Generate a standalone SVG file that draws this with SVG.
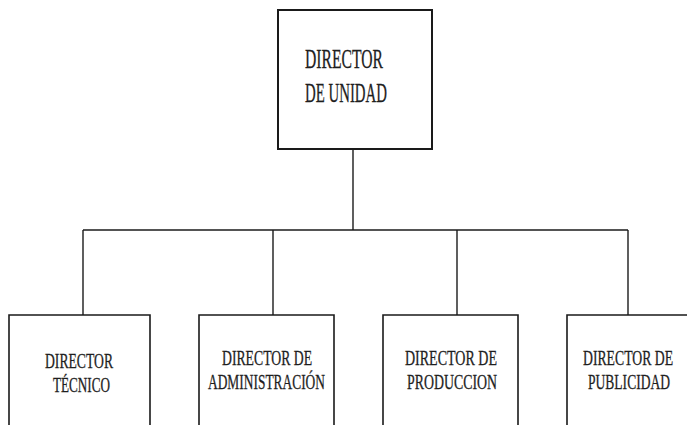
<svg xmlns="http://www.w3.org/2000/svg" width="687" height="425" viewBox="0 0 687 425">
  <style>
    .box { fill: #ffffff; stroke: #1a1a1a; stroke-width: 1.6; }
    .top { stroke-width: 2; }
    .conn { fill: none; stroke: #1a1a1a; stroke-width: 1.4; }
    .lbl { font-family: "Liberation Serif", "Times New Roman", serif; fill: #1e1e1e; stroke: #1e1e1e; stroke-width: 0.3; }
    .t1 { font-size: 27px; }
    .t2 { font-size: 21px; }
  </style>
  <rect width="687" height="425" fill="#ffffff"/>
  <g id="connectors">
    <line class="conn" x1="353" y1="149" x2="353" y2="230"/>
    <line class="conn" x1="83" y1="230" x2="628" y2="230"/>
    <line class="conn" x1="83" y1="230" x2="83" y2="315"/>
    <line class="conn" x1="273" y1="230" x2="273" y2="315"/>
    <line class="conn" x1="457" y1="230" x2="457" y2="315"/>
    <line class="conn" x1="628" y1="230" x2="628" y2="315"/>
  </g>
  <g id="node-director-unidad">
    <rect class="box top" x="278" y="10" width="154" height="139"/>
    <text class="lbl t1" transform="translate(305,68) scale(0.56,1)" textLength="139.3" lengthAdjust="spacingAndGlyphs">DIRECTOR</text>
    <text class="lbl t1" transform="translate(305,102) scale(0.56,1)" textLength="146.4" lengthAdjust="spacingAndGlyphs">DE UNIDAD</text>
  </g>
  <g id="node-director-tecnico">
    <path class="box" d="M9,425 V315 H150 V425"/>
    <text class="lbl t2" transform="translate(45,368) scale(0.65,1)" textLength="104.6" lengthAdjust="spacingAndGlyphs">DIRECTOR</text>
    <text class="lbl t2" transform="translate(53,392) scale(0.65,1)" textLength="87.7" lengthAdjust="spacingAndGlyphs">TÉCNICO</text>
  </g>
  <g id="node-director-administracion">
    <path class="box" d="M199,425 V315 H334 V425"/>
    <text class="lbl t2" transform="translate(222,365) scale(0.65,1)" textLength="138.5" lengthAdjust="spacingAndGlyphs">DIRECTOR DE</text>
    <text class="lbl t2" transform="translate(208,389) scale(0.65,1)" textLength="180" lengthAdjust="spacingAndGlyphs">ADMINISTRACIÓN</text>
  </g>
  <g id="node-director-produccion">
    <path class="box" d="M383,425 V315 H518 V425"/>
    <text class="lbl t2" transform="translate(405,365) scale(0.65,1)" textLength="141.5" lengthAdjust="spacingAndGlyphs">DIRECTOR DE</text>
    <text class="lbl t2" transform="translate(407,389) scale(0.65,1)" textLength="138.5" lengthAdjust="spacingAndGlyphs">PRODUCCION</text>
  </g>
  <g id="node-director-publicidad">
    <path class="box" d="M567,425 V315 H687"/>
    <text class="lbl t2" transform="translate(583,365) scale(0.65,1)" textLength="138.5" lengthAdjust="spacingAndGlyphs">DIRECTOR DE</text>
    <text class="lbl t2" transform="translate(588,389) scale(0.65,1)" textLength="126.2" lengthAdjust="spacingAndGlyphs">PUBLICIDAD</text>
  </g>
</svg>
